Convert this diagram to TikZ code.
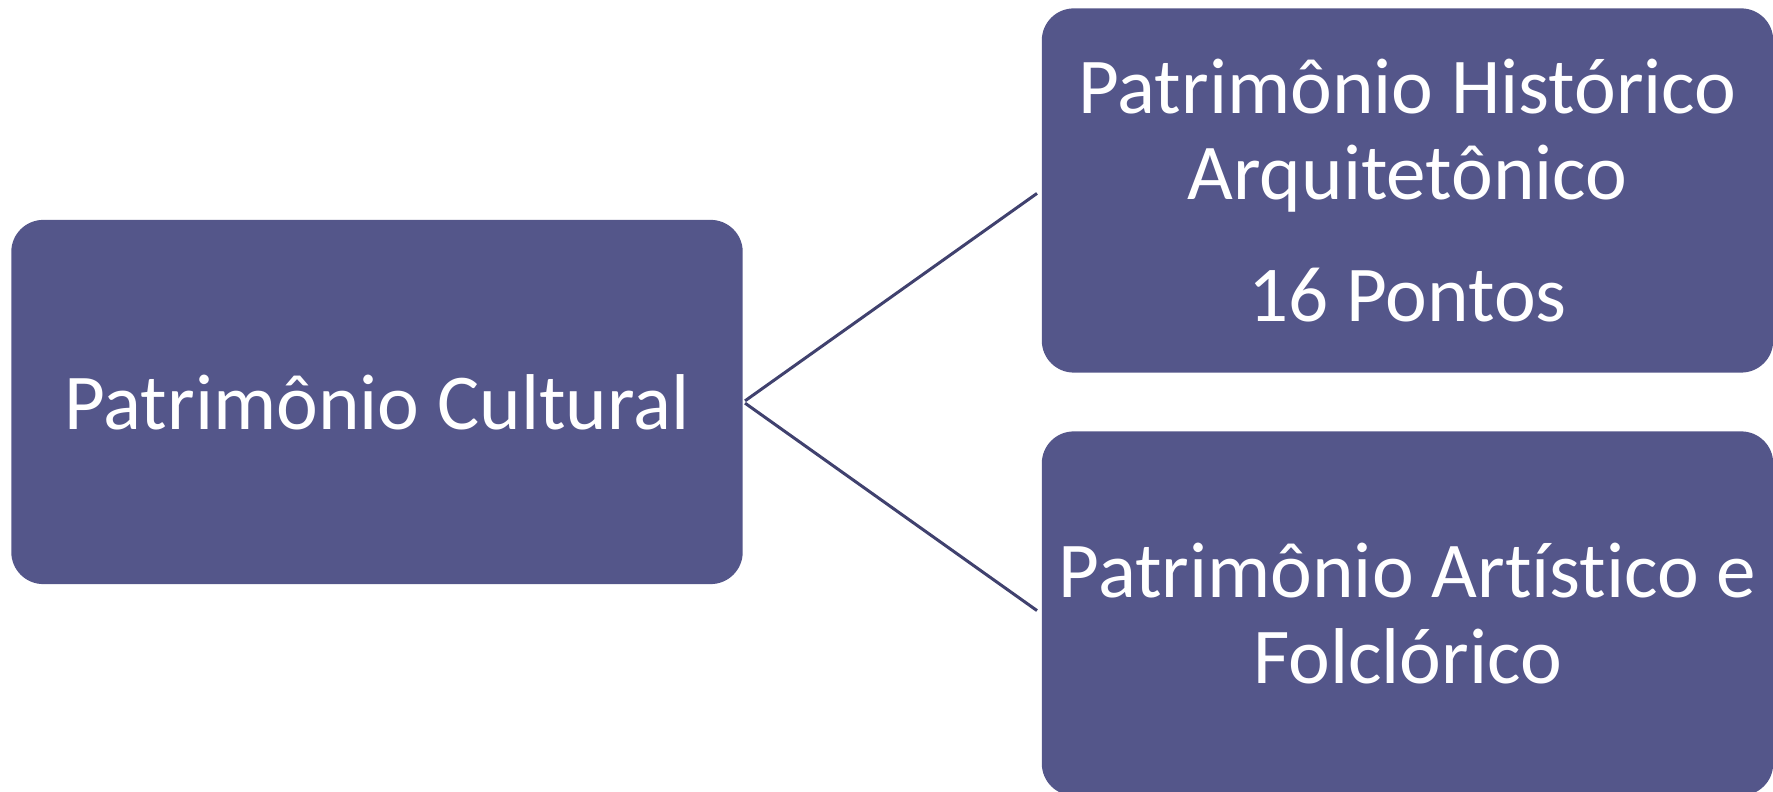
\documentclass[tikz,border=0pt]{standalone}
\usepackage{fontspec}
\setmainfont[Ligatures=NoCommon]{Carlito}
\usetikzlibrary{positioning}
\definecolor{roxo}{RGB}{84,86,138}
\definecolor{roxoescuro}{RGB}{64,65,110}
\tikzset{
  bloco/.style={fill=roxo, draw=none, rounded corners=0.32cm,
    minimum width=7.31cm, minimum height=3.64cm, inner sep=0pt,
    text=white, align=center, font=\fontsize{22.5}{24.7}\selectfont},
  ligacao/.style={draw=roxoescuro, line width=0.03cm,
    shorten <=0.02cm, shorten >=0.05cm}
}
\begin{document}
\begin{tikzpicture}[x=0.01cm,y=-0.01cm]
\useasboundingbox (0,0) rectangle (1773,792);
\node[bloco] (cultural) at (377,402) {Patrimônio Cultural};
\node[bloco] (historico) at (1407.5,190.5) {Patrimônio Histórico\\Arquitetônico\\[0.35cm]16 Pontos};
\node[bloco] (artistico) at (1407.5,613.5) {Patrimônio Artístico e\\Folclórico};
\draw[ligacao] (cultural.east) -- (historico.west);
\draw[ligacao] (cultural.east) -- (artistico.west);
\end{tikzpicture}
\end{document}
